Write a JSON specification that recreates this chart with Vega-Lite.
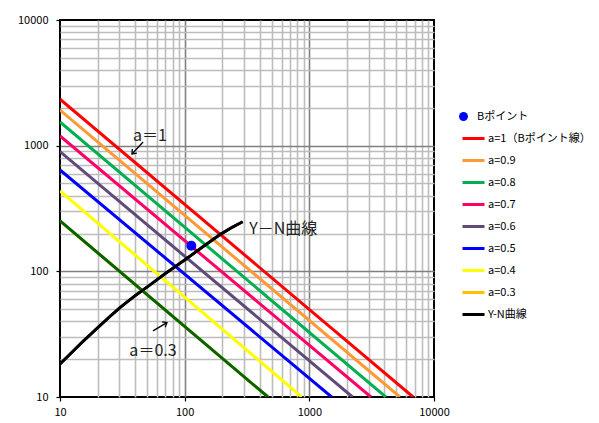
{
  "$schema": "https://vega.github.io/schema/vega-lite/v6.json",
  "width": 374,
  "height": 377,
  "padding": {"left": 5, "top": 14, "right": 5, "bottom": 5},
  "background": "white",
  "config": {
    "view": {"stroke": "black", "strokeWidth": 2},
    "font": "Noto Sans CJK JP",
    "axis": {
      "labelFont": "Noto Sans CJK JP",
      "labelFontSize": 11,
      "labelColor": "black",
      "labelOverlap": false,
      "labelFlush": false,
      "domain": false,
      "tickColor": "black",
      "tickSize": 4,
      "tickWidth": 1.2,
      "title": null,
      "gridWidth": 1.6,
      "gridColor": {"condition": {"test": "indexof([100,1000], datum.value) >= 0", "value": "#808080"}, "value": "#bdbdbd"},
      "gridOpacity": {"condition": {"test": "indexof([10,10000], datum.value) >= 0", "value": 0}, "value": 1},
      "tickOpacity": {"condition": {"test": "indexof([10,100,1000,10000], datum.value) >= 0", "value": 1}, "value": 0},
      "labelExpr": "indexof([10,100,1000,10000], datum.value) >= 0 ? format(datum.value, 'd') : ''"
    }
  },
  "datasets": {
    "lines": [
      {"series": "a=1（Bポイント線）", "N": 10, "Y": 2340},
      {"series": "a=1（Bポイント線）", "N": 6800, "Y": 10},
      {"series": "a=0.9", "N": 10, "Y": 1920},
      {"series": "a=0.9", "N": 5330, "Y": 10},
      {"series": "a=0.8", "N": 10, "Y": 1545},
      {"series": "a=0.8", "N": 4110, "Y": 10},
      {"series": "a=0.7", "N": 10, "Y": 1194},
      {"series": "a=0.7", "N": 3120, "Y": 10},
      {"series": "a=0.6", "N": 10, "Y": 896},
      {"series": "a=0.6", "N": 2220, "Y": 10},
      {"series": "a=0.5", "N": 10, "Y": 641},
      {"series": "a=0.5", "N": 1510, "Y": 10},
      {"series": "a=0.4", "N": 10, "Y": 436},
      {"series": "a=0.4", "N": 870, "Y": 10},
      {"series": "a=0.3", "N": 10, "Y": 252},
      {"series": "a=0.3", "N": 466, "Y": 10},
      {"series": "Y-N曲線", "N": 10, "Y": 18.3},
      {"series": "Y-N曲線", "N": 15, "Y": 27.2},
      {"series": "Y-N曲線", "N": 20, "Y": 35.5},
      {"series": "Y-N曲線", "N": 25, "Y": 43.5},
      {"series": "Y-N曲線", "N": 30.3, "Y": 51.5},
      {"series": "Y-N曲線", "N": 40, "Y": 64},
      {"series": "Y-N曲線", "N": 52.7, "Y": 78},
      {"series": "Y-N曲線", "N": 70, "Y": 96},
      {"series": "Y-N曲線", "N": 100, "Y": 123},
      {"series": "Y-N曲線", "N": 140, "Y": 157},
      {"series": "Y-N曲線", "N": 192, "Y": 196},
      {"series": "Y-N曲線", "N": 240, "Y": 224},
      {"series": "Y-N曲線", "N": 292, "Y": 248}
    ],
    "bpoint": [
      {"series": "Bポイント", "N": 113, "Y": 160}
    ],
    "notes": [
      {"label": "a＝1", "N": 52.7, "Y": 1194},
      {"label": "a＝0.3", "N": 55.7, "Y": 23.3}
    ],
    "notesLeft": [
      {"label": "Y－N曲線", "N": 330, "Y": 217}
    ],
    "arrows": [
      {"N": 46.4, "Y": 1070, "N2": 37.8, "Y2": 859},
      {"N": 55.7, "Y": 33.6, "N2": 72.1, "Y2": 39.1}
    ]
  },
  "encoding": {
    "x": {"field": "N", "type": "quantitative",
      "scale": {"type": "log", "domain": [10, 10000], "nice": false},
      "axis": {"values": [10,20,30,40,50,60,70,80,90,100,200,300,400,500,600,700,800,900,1000,2000,3000,4000,5000,6000,7000,8000,9000,10000], "labelPadding": 5}},
    "y": {"field": "Y", "type": "quantitative",
      "scale": {"type": "log", "domain": [10, 10000], "nice": false},
      "axis": {"values": [10,20,30,40,50,60,70,80,90,100,200,300,400,500,600,700,800,900,1000,2000,3000,4000,5000,6000,7000,8000,9000,10000], "labelPadding": 8, "minExtent": 55, "maxExtent": 55}}
  },
  "layer": [
    {
      "data": {"name": "lines"},
      "mark": {"type": "line", "strokeWidth": 3, "clip": true},
      "encoding": {
        "stroke": {"field": "series", "type": "nominal",
          "scale": {
            "domain": ["a=1（Bポイント線）", "a=0.9", "a=0.8", "a=0.7", "a=0.6", "a=0.5", "a=0.4", "a=0.3", "Y-N曲線"],
            "range": ["#FF0000", "#FF9933", "#00B050", "#FF0066", "#604A7B", "#0000FF", "#FFFF00", "#FFC000", "#000000"]
          },
          "legend": {"orient": "none", "legendX": 401, "legendY": 106, "title": null, "padding": 0,
            "symbolType": "stroke", "symbolSize": 484, "symbolStrokeWidth": 3,
            "labelFontSize": 11, "labelFont": "Noto Sans CJK JP", "labelColor": "black", "labelOffset": 2, "rowPadding": 3}
        }
      }
    },
    {
      "data": {"name": "lines"},
      "transform": [{"filter": "datum.series == 'a=0.3'"}],
      "mark": {"type": "line", "strokeWidth": 3, "color": "#006400", "clip": true},
      "encoding": {}
    },
    {
      "data": {"name": "lines"},
      "transform": [{"filter": "datum.series == 'Y-N曲線'"}],
      "mark": {"type": "line", "strokeWidth": 2.5, "color": "#000000", "clip": true},
      "encoding": {}
    },
    {
      "data": {"name": "bpoint"},
      "mark": {"type": "point", "filled": true, "size": 100, "opacity": 1},
      "encoding": {
        "fill": {"field": "series", "type": "nominal",
          "scale": {"domain": ["Bポイント"], "range": ["#0000FF"]},
          "legend": {"orient": "none", "legendX": 398, "legendY": 91, "title": null, "padding": 0,
            "symbolType": "circle", "symbolSize": 80, "symbolStrokeWidth": 0,
            "labelFontSize": 11, "labelFont": "Noto Sans CJK JP", "labelColor": "black", "labelOffset": 8}
        }
      }
    },
    {
      "data": {"name": "notes"},
      "mark": {"type": "text", "fontSize": 16, "align": "center", "baseline": "middle", "color": "#222"},
      "encoding": {"text": {"field": "label"}}
    },
    {
      "data": {"name": "notesLeft"},
      "mark": {"type": "text", "fontSize": 16, "align": "left", "baseline": "middle", "color": "#222"},
      "encoding": {"text": {"field": "label"}}
    },
    {
      "data": {"name": "arrows"},
      "mark": {"type": "rule", "strokeWidth": 1.3, "color": "black"},
      "encoding": {"x2": {"field": "N2"}, "y2": {"field": "Y2"}}
    },
    {
      "data": {"name": "arrows"},
      "transform": [{"filter": "datum.N2 < datum.N"}],
      "mark": {"type": "point", "shape": "M -0.8 1 L 0 0 L 0.8 1", "filled": false, "size": 60, "strokeWidth": 1.3, "color": "black", "angle": 222, "opacity": 1},
      "encoding": {"x": {"field": "N2", "type": "quantitative"}, "y": {"field": "Y2", "type": "quantitative"}}
    },
    {
      "data": {"name": "arrows"},
      "transform": [{"filter": "datum.N2 > datum.N"}],
      "mark": {"type": "point", "shape": "M -0.8 1 L 0 0 L 0.8 1", "filled": false, "size": 60, "strokeWidth": 1.3, "color": "black", "angle": 59, "opacity": 1},
      "encoding": {"x": {"field": "N2", "type": "quantitative"}, "y": {"field": "Y2", "type": "quantitative"}}
    }
  ]
}
